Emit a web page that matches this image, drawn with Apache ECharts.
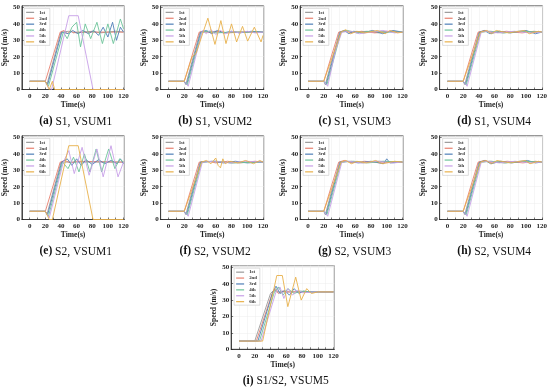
<!DOCTYPE html>
<html><head><meta charset="utf-8">
<script src="https://cdn.jsdelivr.net/npm/echarts@6/dist/echarts.min.js"></script>
<style>html,body{margin:0;padding:0;background:#fff}#c{width:550px;height:391px}</style>
</head><body><div id="c"></div>
<script>
// ---- data ----
const runNames = ['1st','2nd','3rd','4th','5th','6th'];
const xTicks = [0,20,40,60,80,100,120];
const yTicks = [0,10,20,30,40,50];
const captionTags = ['(a)','(b)','(c)','(d)','(e)','(f)','(g)','(h)','(i)'];
const captionTexts = [' S1, VSUM1',' S1, VSUM2',' S1, VSUM3',' S1, VSUM4',' S2, VSUM1',' S2, VSUM2',' S2, VSUM3',' S2, VSUM4',' S1/S2, VSUM5'];

// (a) S1, VSUM1
const A1 = [[0,5],[20,5],[22,3],[40,35],[50,35.5],[60,34.5],[70,35],[80,35.5],[90,34.5],[100,35],[110,35.5],[120,35]];
const A2 = [[0,5],[20,5],[21,4],[39,35],[44,36],[48,34],[52,36],[56,34.5],[60,35],[120,35]];
const A3 = [[0,5],[20,5],[23,3],[41,35],[50,34],[55,36],[62,34],[68,36],[75,34],[82,36],[88,33],[94,38],[100,32],[106,41],[111,30],[116,38],[120,35]];
const A4 = [[0,5],[20,5],[24,2],[43,35],[48,31],[54,38],[60,41],[65,26],[71,40],[78,31],[86,41],[93,28],[100,40],[107,28],[116,43],[120,37]];
const A5 = [[0,5],[20,5],[24,1],[28,0],[50,45],[62,45],[81,0],[120,0]];
const A6 = [[0,5],[20,5],[25,0],[29,5],[32,0],[120,0]];
// (b) S1, VSUM2
const B1 = [[0,5],[20,5],[22,3],[40,35],[50,35],[60,35.5],[70,34.5],[80,35],[100,35],[120,35]];
const B2 = [[0,5],[20,5],[21,4],[39,35],[45,35.5],[55,34.5],[65,35.5],[75,34.5],[90,35],[120,35]];
const B3 = [[0,5],[20,5],[23,3],[41,35],[48,36],[55,34],[62,36],[70,34.5],[80,35.5],[90,34.5],[105,35.5],[120,35]];
const B4 = [[0,5],[20,5],[24,3],[42,35],[50,35.5],[60,34.5],[80,35],[120,35]];
const B5 = [[0,5],[20,5],[25,2],[43,36],[48,34],[54,36.5],[60,33.5],[66,36],[72,34],[80,35.5],[90,34.5],[100,35.5],[110,34.5],[120,35]];
const B6 = [[0,5],[20,5],[22,4],[30,20],[35,22],[44,35],[50,43.5],[59,27.5],[66.5,42],[73,28],[80,40],[86.5,29],[94,38.5],[100.5,29.5],[109,38],[117.5,29],[120,33]];
// (c) S1, VSUM3
const C1 = [[0,5],[20,5],[22,3],[40,35],[50,35.5],[60,35],[75,35.5],[90,34.5],[105,35.5],[120,35]];
const C2 = [[0,5],[20,5],[21,4],[39,35],[47,36],[55,34.5],[68,35.5],[85,34.5],[100,35.5],[120,35]];
const C3 = [[0,5],[20,5],[23,3],[41,35],[46,36],[52,34],[58,35.5],[70,34.5],[82,36],[95,34],[108,36],[120,35]];
const C4 = [[0,5],[20,5],[24,3],[42,35],[50,36],[62,34.5],[78,35.5],[100,35],[120,35]];
const C5 = [[0,5],[20,5],[25,2],[35,24],[43,35],[55,35.5],[65,34],[80,35],[95,36],[110,34.5],[120,35]];
const C6 = [[0,5],[20,5],[22,4],[42,35],[48,36.5],[54,34],[62,35.5],[72,34.5],[88,36],[98,34],[104,36],[114,34.5],[120,35]];
// (d) S1, VSUM4
const D1 = [[0,5],[20,5],[22,3],[40,35],[52,35.5],[70,34.5],[90,35.5],[120,35]];
const D2 = [[0,5],[20,5],[21,4],[39,35],[48,36],[58,34.5],[75,35.5],[95,34.5],[110,35.5],[120,35]];
const D3 = [[0,5],[20,5],[23,3],[41,35],[47,36],[54,34],[66,35.5],[80,34.5],[100,36],[112,34],[120,35]];
const D4 = [[0,5],[20,5],[24,3],[42,35],[55,35.5],[72,34.5],[92,35.5],[120,35]];
const D5 = [[0,5],[20,5],[25,2],[43,35],[50,35.5],[64,34.5],[85,35.5],[105,34.5],[120,35]];
const D6 = [[0,5],[20,5],[22,4],[42,35],[50,36],[56,34],[62,36],[78,34.5],[98,36],[104,34],[116,35.5],[120,35]];
// (e) S2, VSUM1
const E1 = [[0,5],[20,5],[22,3],[40,35],[120,35]];
const E2 = [[0,5],[20,5],[21,4],[39,35],[45,36],[52,34.5],[60,35.5],[120,35]];
const E3 = [[0,5],[20,5],[23,3],[41,35],[48,37],[54,33],[60,37],[66,33],[72,36.5],[80,33.5],[88,36.5],[96,34],[104,36],[112,34],[116,37],[120,34]];
const E4 = [[0,5],[20,5],[24,2],[42,35],[49,31],[56,38],[63,29],[70,40],[77,29],[85,43],[92,29],[101,43],[109,31],[115,37],[120,35]];
const E5 = [[0,5],[20,5],[25,1],[43,35],[50,42],[57,28],[67,44],[76,27],[86,43],[94,26],[104,45],[113,26],[120,35]];
const E6 = [[0,5],[20,5],[25,0],[29,0],[50,45],[62,45],[81,0],[120,0]];
// (f) S2, VSUM2
const F1 = [[0,5],[20,5],[22,3],[40,35],[60,35.5],[80,34.5],[100,35],[120,35]];
const F2 = [[0,5],[20,5],[21,4],[39,35],[50,35.5],[60,34.5],[75,35.5],[90,34.5],[110,35.5],[120,35]];
const F3 = [[0,5],[20,5],[23,3],[41,35],[55,35.5],[70,34.5],[85,35.5],[100,34.5],[120,35]];
const F4 = [[0,5],[20,5],[24,3],[42,35],[60,35.5],[80,34.5],[120,35]];
const F5 = [[0,5],[20,5],[25,2],[43,35],[58,35.5],[78,34.5],[98,35.5],[120,35]];
const F6 = [[0,5],[20,5],[22,4],[42,35],[48,36],[54,34],[60,37.5],[63,33],[66,31.5],[69,37],[72,34],[78,35.5],[88,34.5],[98,36],[108,34],[116,36],[120,35]];
// (g) S2, VSUM3
const G1 = [[0,5],[20,5],[22,3],[40,35],[55,35.5],[70,34.5],[90,35.5],[120,35]];
const G2 = [[0,5],[20,5],[21,4],[39,35],[46,36],[56,34.5],[72,35.5],[92,34.5],[120,35]];
const G3 = [[0,5],[20,5],[23,3],[41,35],[50,35.5],[64,34.5],[80,35.5],[96,34],[100,37],[104,34.5],[120,35]];
const G4 = [[0,5],[20,5],[24,3],[42,35],[58,35.5],[76,34.5],[96,35.5],[120,35]];
const G5 = [[0,5],[20,5],[25,2],[43,35],[52,35.5],[68,34.5],[88,35.5],[108,34.5],[120,35]];
const G6 = [[0,5],[20,5],[22,4],[42,35],[48,36],[55,34],[62,35.5],[74,34.5],[86,36],[94,34],[110,35.5],[120,35]];
// (h) S2, VSUM4
const H1 = [[0,5],[20,5],[22,3],[40,35],[54,35.5],[72,34.5],[92,35.5],[120,35]];
const H2 = [[0,5],[20,5],[21,4],[39,35],[47,36],[57,34.5],[76,35.5],[96,34.5],[112,35.5],[120,35]];
const H3 = [[0,5],[20,5],[23,3],[41,35],[48,36],[55,34],[68,35.5],[82,34.5],[102,36],[112,34.5],[120,35]];
const H4 = [[0,5],[20,5],[24,3],[42,35],[56,35.5],[74,34.5],[94,35.5],[120,35]];
const H5 = [[0,5],[20,5],[25,2],[43,35],[51,35.5],[66,34.5],[86,35.5],[106,34.5],[120,35]];
const H6 = [[0,5],[20,5],[22,4],[42,35],[49,36],[56,34],[63,36],[80,34.5],[99,36],[105,34],[116,35.5],[120,35]];
// (i) S1/S2, VSUM5
const I1 = [[0,5],[20,5],[21,4.5],[40,34],[44,36],[48,35],[120,35]];
const I2 = [[0,5],[22,5],[23,4],[42,34],[46,37],[50,34],[55,35.5],[60,35],[120,35]];
const I3 = [[0,5],[24,5],[25,4],[43,35],[47,38.5],[52,34],[58,36],[64,33],[70,37],[76,34],[82,35.5],[90,35],[120,35]];
const I4 = [[0,5],[26,5],[27,4],[45,35],[50,38],[56,33],[62,37],[70,34],[78,35.5],[90,35],[120,35]];
const I5 = [[0,5],[28,5],[29,4],[47,35],[52,38],[57,31],[62,37],[68,33],[74,36],[82,34.5],[95,35],[120,35]];
const I6 = [[0,5],[30,5],[31,4],[48,45],[55,45],[62,26],[72,44],[79,30],[86,37],[92,34],[100,35],[120,35]];

// ---- layout / style ----
const panelSeries = [[A1,A2,A3,A4,A5,A6],[B1,B2,B3,B4,B5,B6],[C1,C2,C3,C4,C5,C6],[D1,D2,D3,D4,D5,D6],
  [E1,E2,E3,E4,E5,E6],[F1,F2,F3,F4,F5,F6],[G1,G2,G3,G4,G5,G6],[H1,H2,H3,H4,H5,H6],[I1,I2,I3,I4,I5,I6]];
const panelX0 = [29,168.5,308,447.5,29,168.5,308,447.5,239];
const panelY0 = [89.5,89.5,89.5,89.5,219.5,219.5,219.5,219.5,349.3];
const colors = ['#9a9a9a','#e8806f','#4f7fb8','#6cc49a','#c79fe8','#e8b04a'];
const KX = 0.7875, KY = 1.64;
const XMIN = -10, XMAX = 121, YMAX = 51;
const serif = 'Liberation Serif';

const grid = [], xAxis = [], yAxis = [], series = [], title = [], legend = [];
panelSeries.forEach((ps, i) => {
  const left = panelX0[i] + XMIN * KX;
  const top = panelY0[i] - YMAX * KY;
  const width = (XMAX - XMIN) * KX;
  const height = YMAX * KY;
  grid.push({left, top, width, height, show: true, borderColor: '#333', borderWidth: 0.8, backgroundColor: '#fff'});
  xAxis.push({
    gridIndex: i, type: 'value', min: XMIN, max: XMAX, interval: 10,
    axisLine: {show: true, onZero: false, lineStyle: {color: '#222', width: 0.8}},
    axisTick: {show: true, inside: true, length: 2, lineStyle: {color: '#222', width: 0.6}},
    axisLabel: {margin: 3, fontSize: 7, fontWeight: 'bold', fontFamily: serif, color: '#222',
      showMinLabel: false, showMaxLabel: false,
      formatter: v => xTicks.includes(v) ? String(v) : ''},
    splitLine: {show: true, lineStyle: {color: '#ececec', width: 0.5}},
    name: 'Time(s)', nameLocation: 'middle', nameGap: 12,
    nameTextStyle: {fontSize: 7.5, fontWeight: 'bold', fontFamily: serif, color: '#222'}
  });
  yAxis.push({
    gridIndex: i, type: 'value', min: 0, max: YMAX, interval: 10,
    axisLine: {show: true, onZero: false, lineStyle: {color: '#222', width: 0.8}},
    axisTick: {show: true, inside: true, length: 2, lineStyle: {color: '#222', width: 0.6}},
    axisLabel: {margin: 2, fontSize: 7, fontWeight: 'bold', fontFamily: serif, color: '#222',
      showMaxLabel: false,
      formatter: v => yTicks.includes(v) ? String(v) : ''},
    splitLine: {show: true, lineStyle: {color: '#ececec', width: 0.5}},
    name: 'Speed (m/s)', nameLocation: 'middle', nameGap: 12, nameRotate: 90,
    nameTextStyle: {fontSize: 7.5, fontWeight: 'bold', fontFamily: serif, color: '#222'}
  });
  ps.forEach((d, j) => {
    series.push({
      type: 'line', name: runNames[j], xAxisIndex: i, yAxisIndex: i, data: d,
      symbol: 'none', color: colors[j], lineStyle: {width: 0.9, color: colors[j]},
      animation: false, z: 2 + j
    });
  });
  title.push({
    text: '{b|' + captionTags[i] + '}{n|' + captionTexts[i] + '}',
    left: left + width / 2 - 2, top: panelY0[i] + 21, textAlign: 'center',
    textStyle: {fontWeight: 'normal', fontFamily: serif, fontSize: 11.5, color: '#111', rich: {
      b: {fontSize: 11.5, fontWeight: 'bold', fontFamily: serif, color: '#111'},
      n: {fontSize: 11.5, fontWeight: 'normal', fontFamily: serif, color: '#111'}}}
  });
  legend.push({
    orient: 'vertical', left: left + 3, top: top + 2.5, data: runNames,
    icon: 'rect', itemWidth: 8, itemHeight: 1.2, itemGap: 0.9,
    padding: [1.5, 3, 1, 2], backgroundColor: '#fff', borderColor: '#bbb', borderWidth: 0.5,
    textStyle: {fontSize: 4.8, lineHeight: 5, fontWeight: 'bold', fontFamily: serif, color: '#333'},
    selectedMode: false
  });
});

const chart = echarts.init(document.getElementById('c'), null, {renderer: 'canvas'});
chart.setOption({animation: false, backgroundColor: '#fff', grid, xAxis, yAxis, series, title, legend});
</script></body></html>
